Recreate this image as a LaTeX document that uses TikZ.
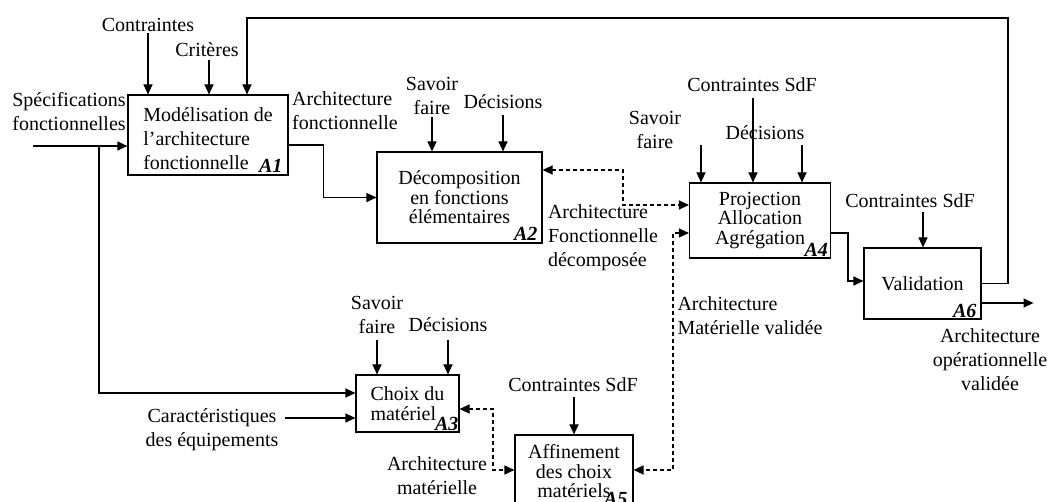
\documentclass[tikz,border=0pt]{standalone}
\usepackage{fontspec}
\setmainfont{Liberation Serif}
\usetikzlibrary{arrows.meta,calc}
\begin{document}
\begin{tikzpicture}[x=1pt,y=-1pt,
  every node/.style={font=\fontsize{20}{24}\selectfont, inner sep=0pt},
  box/.style={draw, line width=1.1pt, align=center, font=\fontsize{20}{19.5}\selectfont},
  lab/.style={align=center},
  labl/.style={align=left},
  arr/.style={line width=1.1pt, -{Triangle[length=10pt,width=9pt]}},
  darr/.style={line width=1.1pt, dash pattern=on 4pt off 3pt, {Triangle[length=10pt,width=9pt]}-{Triangle[length=10pt,width=9pt]}},
  tag/.style={font=\bfseries\itshape\fontsize{20}{24}\selectfont, anchor=base east}]
\useasboundingbox (0,0) rectangle (1050,502);

% boxes
\node[box,align=left,font=\fontsize{20}{24}\selectfont,minimum width=160pt,minimum height=80pt] (A1) at (208,135) {\rule{0pt}{22pt}Modélisation de\\l’architecture\\fonctionnelle};
\node[box,minimum width=165pt,minimum height=91pt] (A2) at (459.5,197.5) {Décomposition\\en fonctions\\élémentaires};
\node[box,align=left,minimum width=103pt,minimum height=57pt] (A3) at (407.5,403.5) {Choix du\\matériel};
\node[box,minimum width=141pt,minimum height=75pt] (A4) at (760,220.5) {Projection\\Allocation\\Agrégation};
\node[box,minimum width=118pt,minimum height=73pt] (A5) at (574,471.5) {Affinement\\des choix\\matériels};
\node[box,minimum width=117pt,minimum height=71pt] (A6) at (922.5,283.5) {Validation};

% tags
\node[tag] (t1) at ($(A1.south east)+(-6,-3)$) {A1};
\node[tag] (t2) at ($(A2.south east)+(-5,-3)$) {A2};
\node[tag] (t3) at ($(A3.south east)+(-1,-2)$) {A3};
\node[tag] (t4) at ($(A4.south east)+(-3,-2)$) {A4};
\node[tag] (t5) at ($(A5.south east)+(-6,-3)$) {A5};
\node[tag] (t6) at ($(A6.south east)+(-5,-2)$) {A6};

% labels
\node[lab] (cont1) at (148,25) {Contraintes};
\node[lab] (crit1) at (207,50) {Critères};
\node[labl] (spec) at (69,112) {Spécifications\\fonctionnelles};
\node[labl] (af) at (345,111) {Architecture\\fonctionnelle};
\node[lab] (sf2) at (432,96) {Savoir\\faire};
\node[lab] (dec2) at (503,102) {Décisions};
\node[labl] (afd) at (603,238) {Architecture\\Fonctionnelle\\décomposée};
\node[lab] (sf4) at (655,130) {Savoir\\faire};
\node[lab] (cs4) at (752,85) {Contraintes SdF};
\node[lab] (dec4) at (765,133) {Décisions};
\node[labl] (amv) at (750,316) {Architecture\\Matérielle validée};
\node[lab] (cs6) at (910,201) {Contraintes SdF};
\node[lab] (aov) at (990,360) {Architecture\\opérationnelle\\validée};
\node[lab] (sf3) at (377,315) {Savoir\\faire};
\node[lab] (dec3) at (448,325) {Décisions};
\node[lab] (car) at (212,430) {Caractéristiques\\des équipements};
\node[lab] (am) at (437,476) {Architecture\\matérielle};
\node[lab] (cs5) at (573,385) {Contraintes SdF};

% coordinates
\coordinate (c1a) at (148,33);
\coordinate (c1b) at (209,60);
\coordinate (fb1) at (1008,18);
\coordinate (fb2) at (247,18);
\coordinate (spin) at (33,146);
\coordinate (spbr) at (99,146);
\coordinate (carend) at (285,418);
\coordinate (s2a) at (432,117);
\coordinate (s2b) at (503,115);
\coordinate (d24) at (623,205);
\coordinate (s4a) at (701,145);
\coordinate (s4c) at (753,98);
\coordinate (s4d) at (802,145);
\coordinate (d46) at (848,281);
\coordinate (s6) at (923,212);
\coordinate (d54) at (673,470);
\coordinate (d35) at (493,470);
\coordinate (s3a) at (377,340);
\coordinate (s3b) at (448,340);
\coordinate (s5) at (574,397);

% A1 connectors
\draw[arr] (c1a) -- (c1a |- A1.north);
\draw[arr] (c1b) -- (c1b |- A1.north);
\draw[arr] (A6.east) -| (fb1) -| (fb2 |- A1.north);
\draw[arr] (spin) -- (spin -| A1.west);
\draw[arr] (spbr) |- ([yshift=10.5pt]A3.west);
\draw[arr] (carend) -- (carend -| A3.west);
\draw[arr] ([yshift=-10pt]A1.east) -- ++(35,0) |- (A2.west);

% A2
\draw[arr] (s2a) -- (s2a |- A2.north);
\draw[arr] (s2b) -- (s2b |- A2.north);
\draw[darr] ([yshift=27.5pt]A2.east) -| (d24) -- (d24 -| A4.west);

% A4
\draw[arr] (s4a) -- (s4a |- A4.north);
\draw[arr] (s4c) -- (s4c |- A4.north);
\draw[arr] (s4d) -- (s4d |- A4.north);
\draw[arr] ([yshift=-12.5pt]A4.east) -| (d46) -- (d46 -| A6.west);
\draw[darr] ([yshift=-12.5pt]A4.west) -| (d54) -- (d54 -| A5.east);

% A6
\draw[arr] (s6) -- (s6 |- A6.north);
\draw[arr] ([yshift=-19.5pt]A6.east) -- ++(52,0);

% A3
\draw[arr] (s3a) -- (s3a |- A3.north);
\draw[arr] (s3b) -- (s3b |- A3.north);
\draw[darr] ([yshift=-5.5pt]A3.east) -| (d35) -- (d35 -| A5.west);

% A5
\draw[arr] (s5) -- (s5 |- A5.north);
\end{tikzpicture}
\end{document}
